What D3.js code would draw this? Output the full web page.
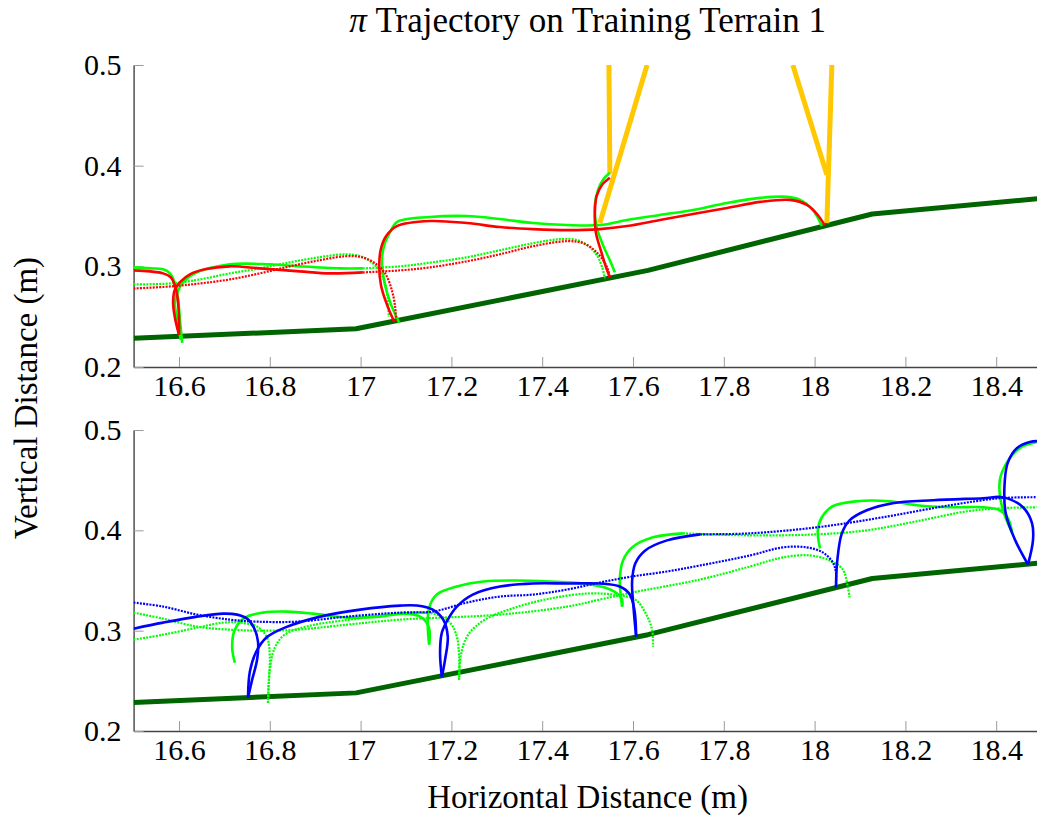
<!DOCTYPE html>
<html>
<head>
<meta charset="utf-8">
<script src="https://cdn.jsdelivr.net/npm/d3@7"></script>
<style>
  html, body { margin: 0; padding: 0; background: #ffffff; }
  svg { display: block; }
  text { font-family: "Liberation Serif", "Times New Roman", serif; fill: #000; }
</style>
</head>
<body>
<svg id="chart" width="1037" height="815"></svg>
<script>
// ---------------- axes ----------------
const xDomain = [16.5, 18.5];
const yDomain = [0.2, 0.5];
const xTicks = [16.6, 16.8, 17.0, 17.2, 17.4, 17.6, 17.8, 18.0, 18.2, 18.4];
const xTickLabels = ["16.6", "16.8", "17", "17.2", "17.4", "17.6", "17.8", "18", "18.2", "18.4"];
const yTicks = [0.2, 0.3, 0.4, 0.5];
const yTickLabels = ["0.2", "0.3", "0.4", "0.5"];

// ---------------- terrain profile [x, z] ----------------
const terrain = [[16.5, 0.2285], [16.99, 0.238], [17.633, 0.296], [18.127, 0.352], [18.5, 0.3675]];

// ---------------- upper panel: policy (red) vs reference (green) ----------------
// foot A
const topGreenA1 = [[16.5,0.299],[16.536,0.298],[16.565,0.297],[16.58,0.293],[16.591,0.283],[16.598,0.267],[16.602,0.247],[16.607,0.224]];
const topRedA1   = [[16.5,0.296],[16.536,0.295],[16.565,0.293],[16.582,0.289],[16.593,0.278],[16.598,0.264],[16.6,0.247],[16.6,0.232]];
const topGreenA2 = [[16.604,0.227],[16.596,0.247],[16.591,0.264],[16.598,0.276],[16.611,0.285],[16.635,0.293],[16.712,0.302],[16.8,0.302],[16.866,0.300],[16.955,0.298],[17.005,0.298]];
const topRedA2   = [[16.6,0.232],[16.591,0.249],[16.587,0.264],[16.591,0.277],[16.604,0.285],[16.624,0.292],[16.657,0.297],[16.712,0.300],[16.778,0.298],[16.866,0.295],[16.933,0.293],[17.005,0.294]];
const topGreenA3 = [[17.005,0.298],[17.087,0.300],[17.159,0.304],[17.234,0.309],[17.307,0.316],[17.38,0.323],[17.439,0.327],[17.477,0.326],[17.505,0.319],[17.523,0.309],[17.534,0.296],[17.538,0.288]];
const topRedA3   = [[17.005,0.294],[17.087,0.296],[17.153,0.299],[17.234,0.305],[17.307,0.312],[17.38,0.320],[17.455,0.325],[17.49,0.323],[17.52,0.314],[17.543,0.299],[17.549,0.289]];
const topGreenA4 = [[17.56,0.294],[17.549,0.306],[17.534,0.321],[17.52,0.339],[17.516,0.361],[17.523,0.376],[17.534,0.386],[17.549,0.393]];
const topRedA4   = [[17.549,0.289],[17.54,0.300],[17.529,0.316],[17.518,0.334],[17.516,0.354],[17.52,0.370],[17.532,0.381],[17.549,0.388]];
// foot B
const topGreenB1 = [[16.5,0.282],[16.58,0.283],[16.646,0.287],[16.712,0.293],[16.778,0.298],[16.844,0.304],[16.909,0.309],[16.97,0.312],[17.005,0.309],[17.036,0.299],[17.054,0.283],[17.06,0.267],[17.062,0.250]];
const topRedB1   = [[16.5,0.278],[16.58,0.280],[16.646,0.283],[16.712,0.287],[16.778,0.293],[16.844,0.300],[16.909,0.306],[16.966,0.310],[17.003,0.309],[17.032,0.303],[17.054,0.293],[17.069,0.276],[17.076,0.260],[17.078,0.245]];
const topGreenB2 = [[17.085,0.244],[17.067,0.262],[17.054,0.281],[17.047,0.304],[17.052,0.321],[17.065,0.334],[17.08,0.344],[17.153,0.349],[17.234,0.350],[17.307,0.347],[17.38,0.343],[17.455,0.341],[17.527,0.341],[17.587,0.346],[17.659,0.351],[17.732,0.356],[17.807,0.363],[17.88,0.368],[17.939,0.369],[17.968,0.366],[17.996,0.356],[18.016,0.340]];
const topRedB2   = [[17.074,0.245],[17.058,0.262],[17.045,0.281],[17.041,0.301],[17.045,0.318],[17.056,0.330],[17.08,0.340],[17.153,0.345],[17.234,0.343],[17.307,0.339],[17.38,0.337],[17.455,0.336],[17.527,0.337],[17.587,0.340],[17.659,0.346],[17.732,0.352],[17.807,0.358],[17.88,0.364],[17.946,0.366],[17.983,0.361],[18.007,0.351],[18.022,0.341]];
// body segments leaving the frame
const topGold1 = [[17.547,0.5],[17.549,0.392]];
const topGold2 = [[17.631,0.5],[17.527,0.343]];
const topGold3 = [[17.952,0.5],[18.027,0.391]];
const topGold4 = [[18.038,0.5],[18.027,0.343]];

// ---------------- lower panel: policy (blue) vs reference (green) ----------------
const botBlueA1 = [[16.5,0.302],[16.565,0.308],[16.64,0.314],[16.697,0.317],[16.728,0.316],[16.75,0.312],[16.765,0.303],[16.774,0.289],[16.772,0.271],[16.761,0.251],[16.752,0.233]];
const botBlueA2 = [[16.752,0.233],[16.756,0.259],[16.77,0.279],[16.792,0.293],[16.833,0.303],[16.911,0.314],[16.999,0.321],[17.087,0.325],[17.124,0.325],[17.159,0.321],[17.182,0.311],[17.192,0.294],[17.186,0.271],[17.179,0.254]];
const botBlueA3 = [[17.179,0.254],[17.175,0.278],[17.179,0.298],[17.192,0.311],[17.212,0.324],[17.247,0.336],[17.307,0.344],[17.38,0.347],[17.455,0.347],[17.527,0.347],[17.571,0.344],[17.593,0.336],[17.603,0.321],[17.607,0.294]];
const botBlueA4 = [[17.607,0.294],[17.601,0.324],[17.598,0.349],[17.605,0.367],[17.627,0.380],[17.675,0.390],[17.748,0.396]];
const botBlueA5 = [[17.748,0.396],[17.858,0.397],[18.005,0.403],[18.15,0.413],[18.298,0.425],[18.408,0.432],[18.489,0.433]];
const botBlueB1 = [[16.5,0.328],[16.565,0.324],[16.64,0.316],[16.712,0.311],[16.772,0.309],[16.86,0.309],[16.97,0.314],[17.087,0.318],[17.159,0.319],[17.234,0.328],[17.307,0.334],[17.38,0.336],[17.455,0.341],[17.527,0.348],[17.598,0.354],[17.675,0.359],[17.748,0.365],[17.858,0.375],[17.93,0.383],[17.983,0.383],[18.018,0.378],[18.04,0.368],[18.047,0.358],[18.047,0.343]];
const botBlueB2 = [[18.047,0.343],[18.05,0.370],[18.06,0.397],[18.077,0.410],[18.115,0.420],[18.172,0.427],[18.261,0.430],[18.371,0.432],[18.415,0.433],[18.459,0.423],[18.479,0.407],[18.481,0.390],[18.47,0.366]];
const botBlueB3 = [[18.47,0.366],[18.442,0.390],[18.421,0.417],[18.419,0.450],[18.426,0.468],[18.446,0.482],[18.474,0.488],[18.495,0.489]];

const botGreenA1 = [[16.723,0.268],[16.717,0.284],[16.723,0.301],[16.745,0.313],[16.785,0.318],[16.838,0.319],[16.895,0.317],[16.97,0.313],[17.043,0.314],[17.098,0.317],[17.131,0.314],[17.15,0.304],[17.151,0.286]];
const botGreenA2 = [[17.151,0.286],[17.148,0.304],[17.151,0.323],[17.168,0.336],[17.212,0.344],[17.27,0.349],[17.344,0.350],[17.417,0.349],[17.49,0.347],[17.538,0.343],[17.565,0.337],[17.576,0.331],[17.576,0.324]];
const botGreenA3 = [[17.576,0.324],[17.571,0.351],[17.578,0.370],[17.598,0.383],[17.644,0.393],[17.71,0.397]];
const botGreenA4 = [[17.71,0.397],[17.858,0.395],[18.005,0.396],[18.115,0.400],[18.225,0.409],[18.336,0.419],[18.408,0.422],[18.489,0.423]];
const botGreenA5 = [[18.012,0.382],[18.007,0.400],[18.016,0.413],[18.04,0.424],[18.093,0.429],[18.165,0.429],[18.225,0.425],[18.298,0.423],[18.371,0.423],[18.408,0.420],[18.426,0.412],[18.435,0.398]];
const botGreenA6 = [[18.435,0.398],[18.413,0.423],[18.408,0.450],[18.424,0.468],[18.452,0.482],[18.489,0.488]];
const botGreenB1 = [[16.5,0.291],[16.565,0.296],[16.64,0.303],[16.697,0.308],[16.734,0.308],[16.772,0.304],[16.794,0.293],[16.8,0.274],[16.798,0.251],[16.796,0.228]];
const botGreenB2 = [[16.5,0.318],[16.565,0.312],[16.64,0.304],[16.712,0.301],[16.785,0.300],[16.86,0.301],[16.97,0.306],[17.087,0.311],[17.307,0.316],[17.455,0.324],[17.527,0.331],[17.598,0.338],[17.748,0.351],[17.858,0.364],[17.93,0.373],[17.99,0.375],[18.033,0.370],[18.062,0.361],[18.073,0.344],[18.077,0.333]];
const botGreenB3 = [[16.796,0.228],[16.8,0.261],[16.811,0.283],[16.833,0.296],[16.889,0.305],[16.977,0.311],[17.065,0.316],[17.131,0.318],[17.168,0.316],[17.197,0.308],[17.212,0.294],[17.217,0.274],[17.217,0.251]];
const botGreenB4 = [[17.217,0.251],[17.221,0.276],[17.237,0.296],[17.274,0.311],[17.34,0.323],[17.417,0.332],[17.499,0.337],[17.556,0.336],[17.605,0.331],[17.627,0.318],[17.642,0.301],[17.644,0.284]];

// ---------------- styling ----------------
const GREEN = "#00ff00", RED = "#ff0000", BLUE = "#0000ff", GOLD = "#ffc800", GROUND = "#006400";

const topTraces = [
  { pts: topGreenA1, color: GREEN, dotted: false },
  { pts: topGreenA2, color: GREEN, dotted: false },
  { pts: topGreenA3, color: GREEN, dotted: true },
  { pts: topGreenA4, color: GREEN, dotted: false },
  { pts: topGreenB1, color: GREEN, dotted: true },
  { pts: topGreenB2, color: GREEN, dotted: false },
  { pts: topRedA1, color: RED, dotted: false },
  { pts: topRedA2, color: RED, dotted: false },
  { pts: topRedA3, color: RED, dotted: true },
  { pts: topRedA4, color: RED, dotted: false },
  { pts: topRedB1, color: RED, dotted: true },
  { pts: topRedB2, color: RED, dotted: false }
];
const topGold = [topGold1, topGold2, topGold3, topGold4];

const botTraces = [
  { pts: botGreenB1, color: GREEN, dotted: true },
  { pts: botGreenB2, color: GREEN, dotted: true },
  { pts: botGreenB3, color: GREEN, dotted: true },
  { pts: botGreenB4, color: GREEN, dotted: true },
  { pts: botGreenA1, color: GREEN, dotted: false },
  { pts: botGreenA2, color: GREEN, dotted: false },
  { pts: botGreenA3, color: GREEN, dotted: false },
  { pts: botGreenA4, color: GREEN, dotted: true },
  { pts: botGreenA5, color: GREEN, dotted: false },
  { pts: botGreenA6, color: GREEN, dotted: false },
  { pts: botBlueB1, color: BLUE, dotted: true },
  { pts: botBlueB2, color: BLUE, dotted: false },
  { pts: botBlueB3, color: BLUE, dotted: false },
  { pts: botBlueA1, color: BLUE, dotted: false },
  { pts: botBlueA2, color: BLUE, dotted: false },
  { pts: botBlueA3, color: BLUE, dotted: false },
  { pts: botBlueA4, color: BLUE, dotted: false },
  { pts: botBlueA5, color: BLUE, dotted: true }
];

// ---------------- drawing ----------------
const svg = d3.select("#chart");
const defs = svg.append("defs");
const x = d3.scaleLinear().domain(xDomain).range([133.6, 1041.6]);

const panels = [
  { id: "upper", top: 65, bottom: 367, traces: topTraces, gold: topGold },
  { id: "lower", top: 430, bottom: 731, traces: botTraces, gold: [] }
];

panels.forEach(p => {
  const y = d3.scaleLinear().domain(yDomain).range([p.bottom, p.top]);

  defs.append("clipPath").attr("id", "clip-" + p.id)
    .append("rect")
    .attr("x", x.range()[0]).attr("y", p.top)
    .attr("width", x.range()[1] - x.range()[0])
    .attr("height", p.bottom - p.top);

  const g = svg.append("g");

  // axes (ticks point inward)
  const xAxis = d3.axisBottom(x)
    .tickValues(xTicks)
    .tickFormat((d, i) => xTickLabels[i])
    .tickSizeInner(-10).tickSizeOuter(0).tickPadding(8);
  const yAxis = d3.axisLeft(y)
    .tickValues(yTicks)
    .tickFormat((d, i) => yTickLabels[i])
    .tickSizeInner(-10).tickSizeOuter(0).tickPadding(12);

  const gx = g.append("g").attr("transform", `translate(0,${p.bottom})`).call(xAxis);
  const gy = g.append("g").attr("transform", `translate(${x.range()[0]},0)`).call(yAxis);
  [gx, gy].forEach(ax => {
    ax.attr("font-family", null).attr("font-size", null);
    ax.select(".domain").attr("stroke", "#444").attr("stroke-width", 1.4);
    ax.selectAll(".tick line").attr("stroke", "#9a9a9a").attr("stroke-width", 1);
    ax.selectAll(".tick text")
      .style("font-family", '"Liberation Serif", "Times New Roman", serif')
      .style("font-size", "30px").attr("fill", "#000");
  });

  const plot = g.append("g").attr("clip-path", `url(#clip-${p.id})`);

  const straight = d3.line().x(d => x(d[0])).y(d => y(d[1]));
  const smooth = d3.line().x(d => x(d[0])).y(d => y(d[1])).curve(d3.curveCatmullRom.alpha(0.5));

  // ground profile
  plot.append("path").datum(terrain)
    .attr("d", straight).attr("fill", "none")
    .attr("stroke", GROUND).attr("stroke-width", 5)
    .attr("stroke-linejoin", "round");

  // body segments
  plot.selectAll("path.gold").data(p.gold).join("path")
    .attr("class", "gold")
    .attr("d", straight).attr("fill", "none")
    .attr("stroke", GOLD).attr("stroke-width", 5);

  // foot trajectories
  plot.selectAll("path.trace").data(p.traces).join("path")
    .attr("class", "trace")
    .attr("d", d => smooth(d.pts)).attr("fill", "none")
    .attr("stroke", d => d.color)
    .attr("stroke-width", d => d.dotted ? 2.2 : 2.6)
    .attr("stroke-dasharray", d => d.dotted ? "2,1.2" : null)
    .attr("stroke-linecap", "butt")
    .attr("stroke-linejoin", "round");
});

// ---------------- titles ----------------
const title = svg.append("text")
  .attr("x", 587.6).attr("y", 32)
  .attr("text-anchor", "middle")
  .style("font-size", "35px");
title.append("tspan").style("font-style", "italic").text("π");
title.append("tspan").text(" Trajectory on Training Terrain 1");

svg.append("text")
  .attr("x", 587.6).attr("y", 808)
  .attr("text-anchor", "middle")
  .style("font-size", "33px")
  .text("Horizontal Distance (m)");

svg.append("text")
  .attr("transform", "translate(37,398) rotate(-90)")
  .attr("text-anchor", "middle")
  .style("font-size", "33px")
  .text("Vertical Distance (m)");
</script>
</body>
</html>
